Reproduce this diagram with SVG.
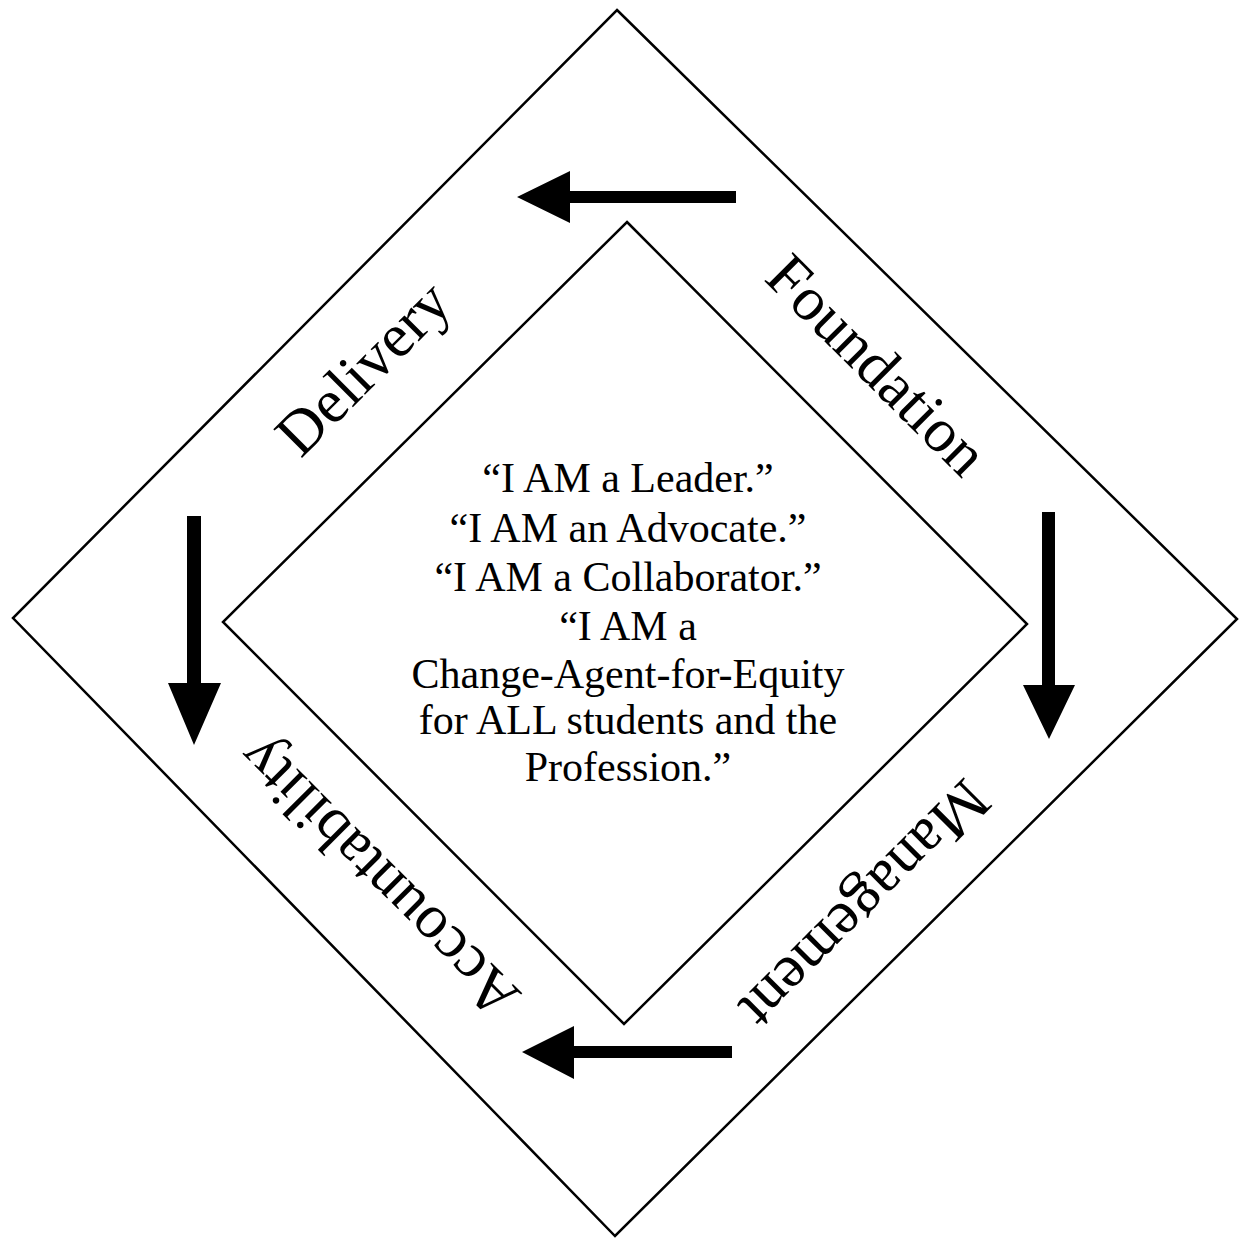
<svg xmlns="http://www.w3.org/2000/svg" width="1239" height="1239" viewBox="0 0 1239 1239">
<style>
.frame{fill:none;stroke:#000;stroke-width:2.5;stroke-linejoin:miter}
.lbl{font-family:"Liberation Serif","Times New Roman",serif;font-size:62px;fill:#000;text-anchor:middle}
.ctr{font-family:"Liberation Serif","Times New Roman",serif;font-size:42px;fill:#000;text-anchor:middle}
.arr{fill:#000;stroke:none}
</style>
<rect width="1239" height="1239" fill="#fff"/>
<g id="outer-diamond"><polygon class="frame" points="617,10 1237,619 615,1236 13,618"/></g>
<g id="inner-diamond"><polygon class="frame" points="627,222 1027,624 624,1024 223,622"/></g>
<g id="connectors">
<polygon class="arr" points="736,191 570,191 570,171 517,197 570,223 570,203 736,203"/>
<polygon class="arr" points="187,516 201,516 201,683 221,683 194,745 168,683 187,683"/>
<polygon class="arr" points="1042,512 1055,512 1055,685 1075,685 1049,739 1023,685 1042,685"/>
<polygon class="arr" points="732,1046 574,1046 574,1026 522,1052 574,1079 574,1058 732,1058"/>
</g>
<g id="foundation"><text class="lbl" transform="translate(877,365) rotate(45)" dy="0.33em">Foundation</text></g>
<g id="delivery"><text class="lbl" transform="translate(363,368) rotate(-45)" dy="0.33em">Delivery</text></g>
<g id="management"><text class="lbl" transform="translate(865,905) rotate(135)" dy="0.33em">Management</text></g>
<g id="accountability"><text class="lbl" transform="translate(378,878) rotate(-135)" dy="0.33em">Accountability</text></g>
<g id="center">
<text class="ctr" x="628" y="492">“I AM a Leader.”</text>
<text class="ctr" x="628" y="542">“I AM an Advocate.”</text>
<text class="ctr" x="628" y="591">“I AM a Collaborator.”</text>
<text class="ctr" x="628" y="640">“I AM a</text>
<text class="ctr" x="628" y="688">Change-Agent-for-Equity</text>
<text class="ctr" x="628" y="734">for ALL students and the</text>
<text class="ctr" x="628" y="781">Profession.”</text>
</g>
</svg>
